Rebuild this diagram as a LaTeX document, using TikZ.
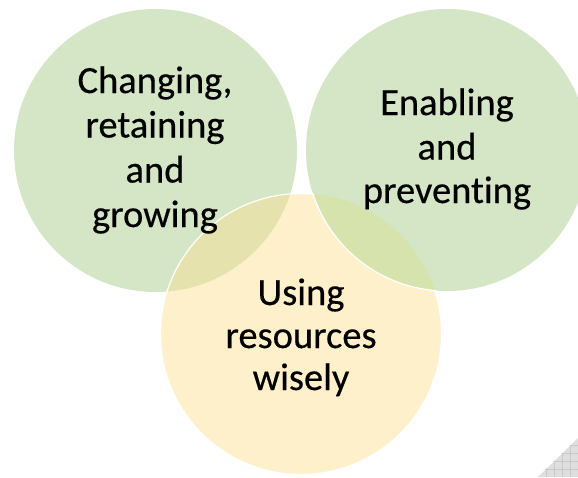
\documentclass[tikz,border=0pt]{standalone}
\usepackage{fontspec}
\setmainfont{Carlito}
\newfontfamily\lblfont{Carlito}[FakeBold=0.4, Ligatures={NoCommon,NoRequired,NoContextual}]
\definecolor{cgreen}{RGB}{212,230,197}
\definecolor{cyellow}{RGB}{255,240,204}
\definecolor{olivel}{RGB}{229,226,173}
\definecolor{oliver}{RGB}{214,227,172}
\definecolor{gripfill}{RGB}{222,222,222}
\definecolor{gripline}{RGB}{200,200,200}
\tikzset{
  lbl/.style={anchor=base, font=\lblfont\fontsize{38.5}{44}\selectfont, text=black, inner sep=0pt},
  edge/.style={draw=white, line width=1.2pt}
}
\begin{document}
\begin{tikzpicture}[x=1pt,y=-1pt]
\useasboundingbox (0,0) rectangle (578,477);
\begin{scope}
\clip (0,0) rectangle (578,477);
% left green circle
\fill[cgreen] (155.5,150.5) circle (141.5);
% yellow circle
\fill[cyellow] (301,334) circle (140.5);
\begin{scope}
  \clip (155.5,150.5) circle (141.5);
  \fill[olivel] (301,334) circle (140.5);
\end{scope}
\draw[edge] (301,334) circle (140.5);
% right green circle
\fill[cgreen] (447,150) circle (141);
\begin{scope}
  \clip (301,334) circle (140.5);
  \fill[oliver] (447,150) circle (141);
\end{scope}
\begin{scope}
  \clip (301,334) circle (141.5);
  \draw[edge] (447,150) circle (141);
\end{scope}
% grip triangle
\begin{scope}
  \clip (578,438) -- (578,477) -- (538,477) -- cycle;
  \fill[gripfill] (530,430) rectangle (578,477);
  \foreach \k in {0,...,6} {
    \draw[gripline, line width=0.8pt] (578-8*\k,430) -- (578-8*\k,477);
    \draw[gripline, line width=0.8pt] (530,477-8*\k) -- (578,477-8*\k);
  }
\end{scope}
\end{scope}
% texts
\node[lbl] (l1) at (155,93) {Changing,};
\node[lbl] (l2) at (155,137.5) {retaining};
\node[lbl] (l3) at (155,182.5) {and};
\node[lbl] (l4) at (155,227) {growing};
\node[lbl] (r1) at (447,115) {Enabling};
\node[lbl] (r2) at (447,159.5) {and};
\node[lbl] (r3) at (447,203) {preventing};
\node[lbl] (b1) at (301,305) {Using};
\node[lbl] (b2) at (301,348) {resources};
\node[lbl] (b3) at (301,390) {wisely};
\end{tikzpicture}
\end{document}
